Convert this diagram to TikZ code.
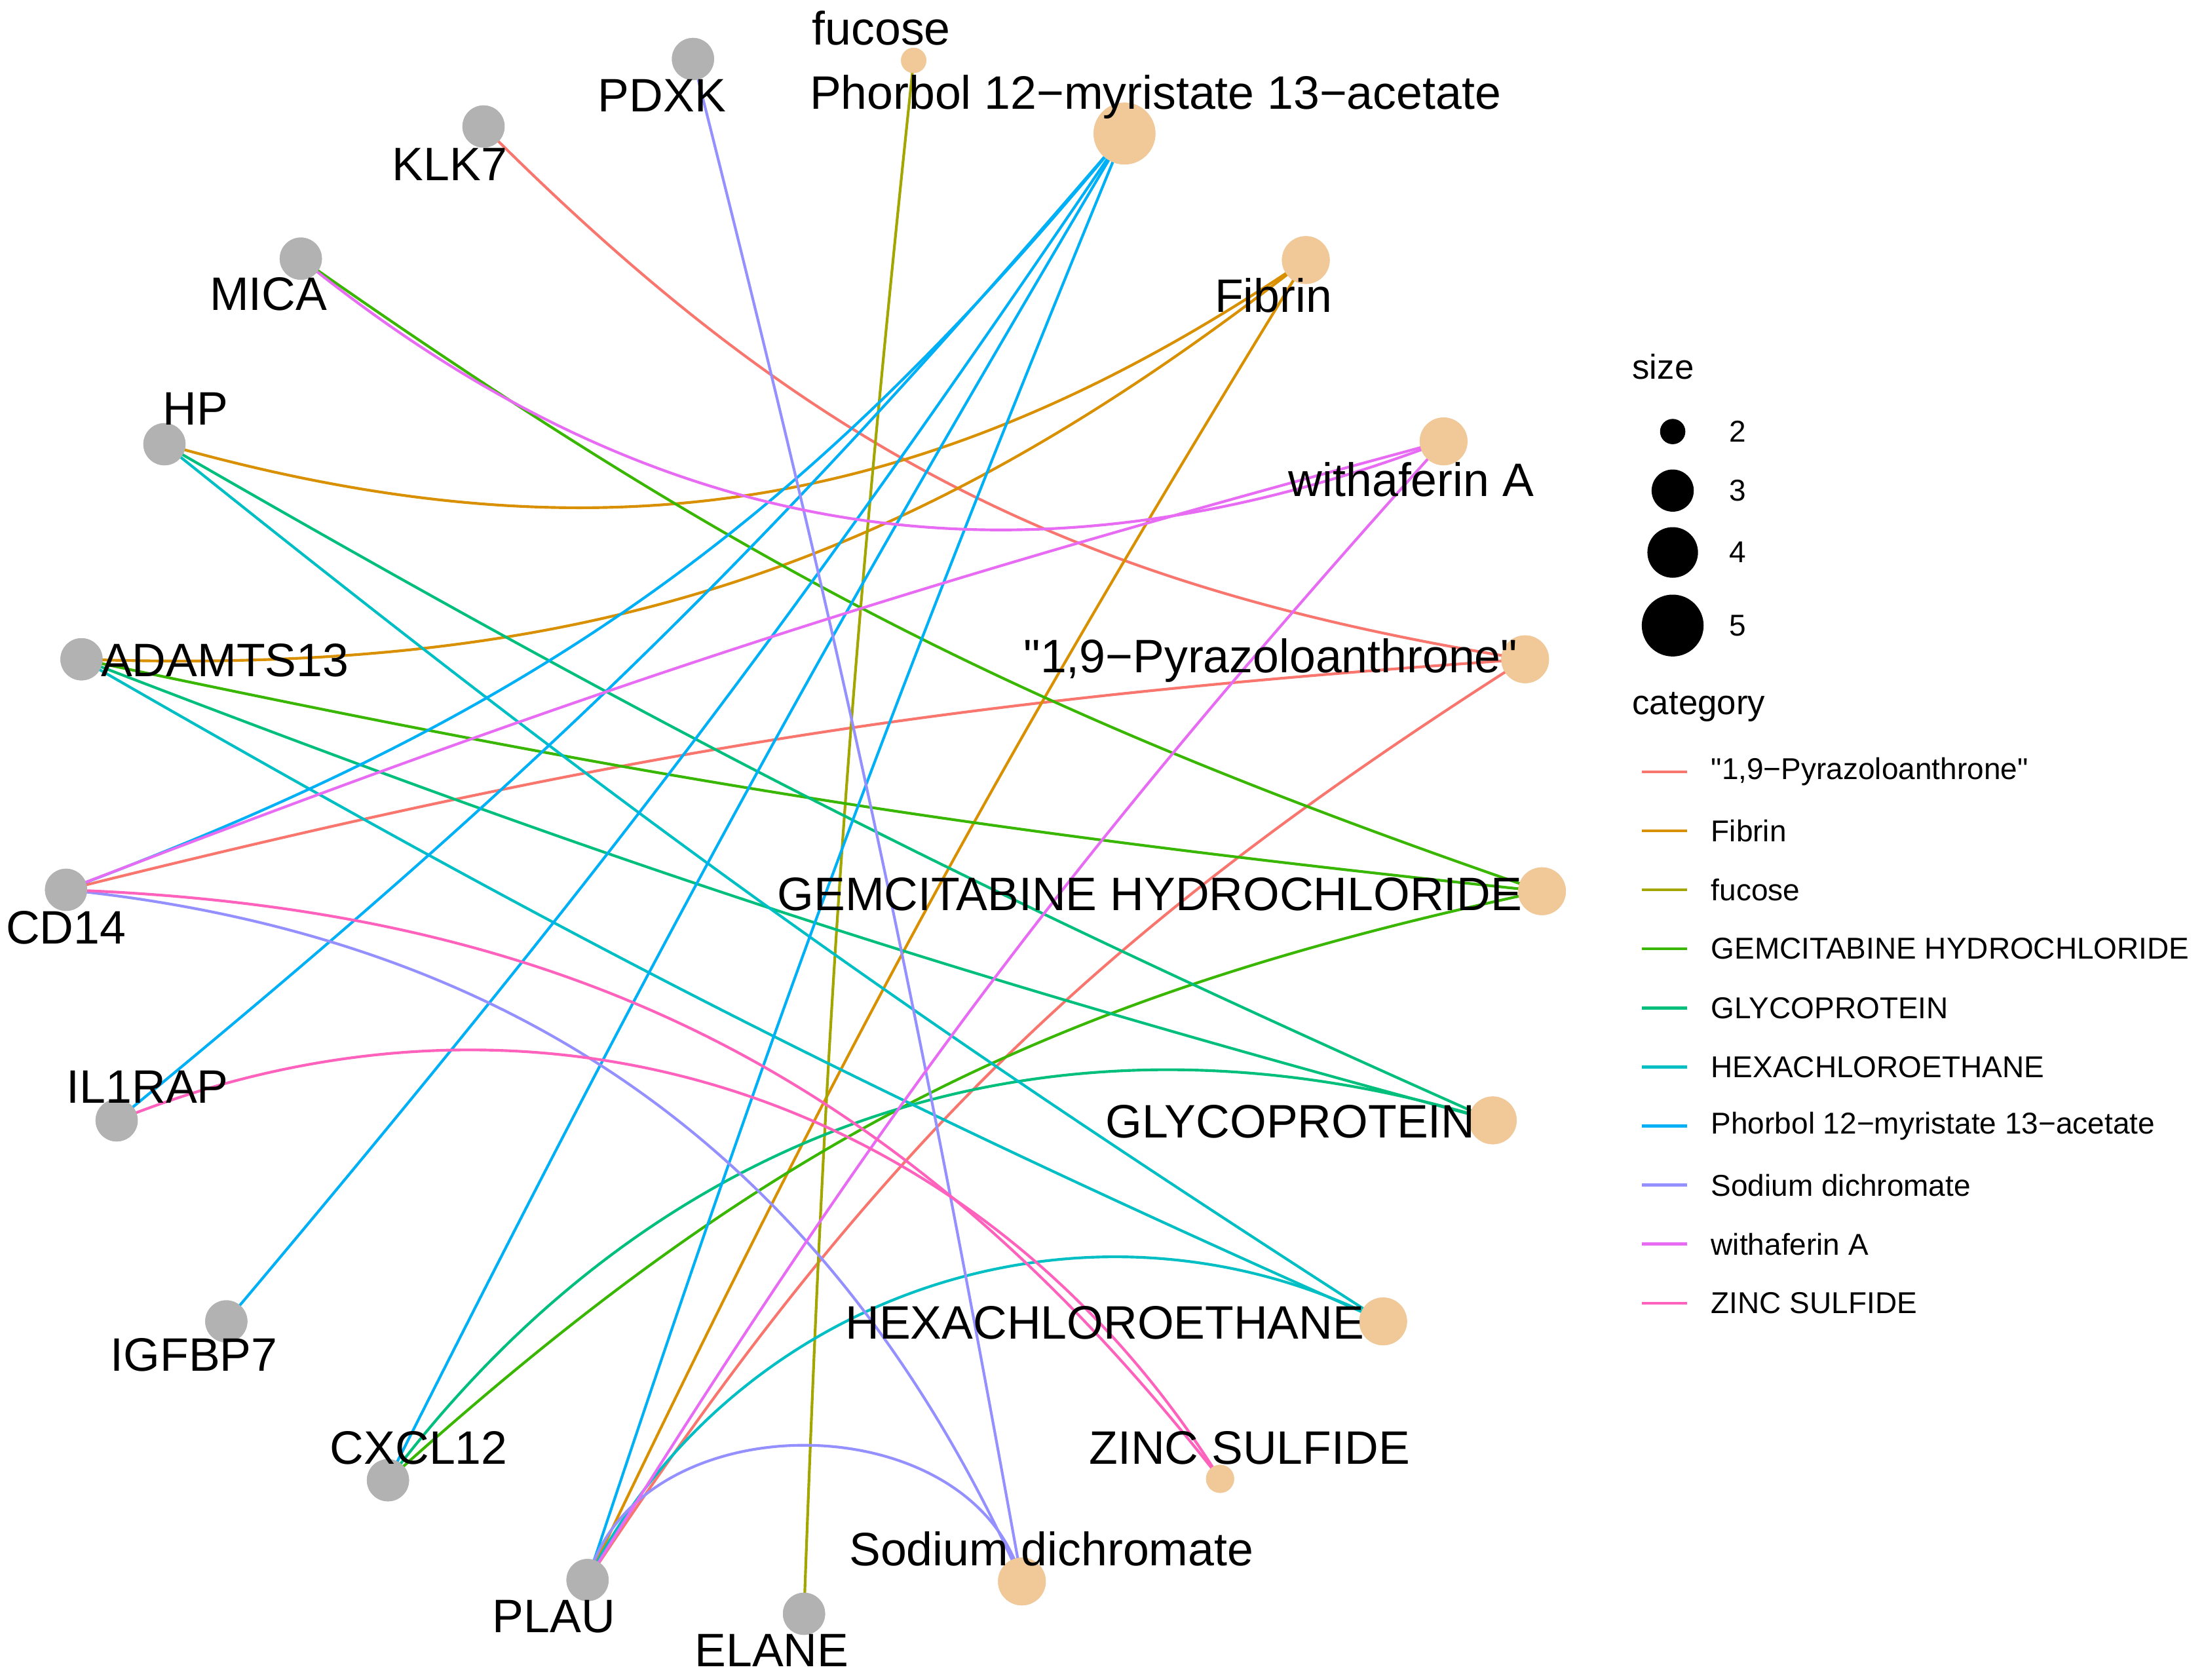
\documentclass[tikz,border=0pt]{standalone}
\usepackage{fontspec}
\setmainfont{Liberation Sans}
\newfontfamily\lsans{Liberation Sans}
\begin{document}
\begin{tikzpicture}[x=0.02cm,y=-0.02cm,
 gene/.style={circle,fill=gray!60,minimum size=30*0.02cm,inner sep=0},
 cat/.style={circle,fill=cattan,inner sep=0},
 lab/.style={font=\lsans\fontsize{19}{21}\selectfont,inner sep=0},
 leg/.style={font=\lsans\fontsize{12.2}{14}\selectfont,anchor=west,inner sep=0},
 ed/.style={line width=1.1pt}]
\definecolor{cattan}{HTML}{F1C898}
\definecolor{cA}{HTML}{F8766D}\definecolor{cB}{HTML}{D89000}\definecolor{cC}{HTML}{A3A500}
\definecolor{cD}{HTML}{39B600}\definecolor{cE}{HTML}{00BF7D}\definecolor{cF}{HTML}{00BFC4}
\definecolor{cG}{HTML}{00B0F6}\definecolor{cH}{HTML}{9590FF}\definecolor{cI}{HTML}{E76BF3}
\definecolor{cJ}{HTML}{FF62BC}
\useasboundingbox (0,0) rectangle (1568,1195);
% genes
\node[gene] (PDXK) at (493,42) {};
\node[gene] (KLK7) at (344,90) {};
\node[gene] (MICA) at (214,184) {};
\node[gene] (HP) at (117,316) {};
\node[gene] (ADAMTS13) at (58,469) {};
\node[gene] (CD14) at (47,633) {};
\node[gene] (IL1RAP) at (83,797) {};
\node[gene] (IGFBP7) at (161,940) {};
\node[gene] (CXCL12) at (276,1053) {};
\node[gene] (PLAU) at (418,1124) {};
\node[gene] (ELANE) at (572,1148) {};
% categories
\node[cat,minimum size=18*0.02cm] (fuc) at (650,43) {};
\node[cat,minimum size=44*0.02cm] (pma) at (800,95) {};
\node[cat,minimum size=34*0.02cm] (fib) at (929,185) {};
\node[cat,minimum size=34*0.02cm] (wit) at (1027,314) {};
\node[cat,minimum size=34*0.02cm] (pyr) at (1085,469) {};
\node[cat,minimum size=34*0.02cm] (gem) at (1097,634) {};
\node[cat,minimum size=34*0.02cm] (gly) at (1062,797) {};
\node[cat,minimum size=34*0.02cm] (hex) at (984,940) {};
\node[cat,minimum size=20*0.02cm] (zin) at (868,1052) {};
\node[cat,minimum size=34*0.02cm] (sod) at (727,1125) {};
% edges
\begin{scope}[ed]
\draw[cA] (KLK7.center) to[bend right=18] (pyr.center);
\draw[cA] (CD14.center) to[bend left=5] (pyr.center);
\draw[cA] (PLAU.center) to[bend left=12] (pyr.center);
\draw[cB] (HP.center) to[bend right=25] (fib.center);
\draw[cB] (ADAMTS13.center) to[bend right=20] (fib.center);
\draw[cB] (PLAU.center) to[bend left=3] (fib.center);
\draw[cC] (ELANE.center) to[bend left=2] (fuc.center);
\draw[cD] (MICA.center) to[bend right=8] (gem.center);
\draw[cD] (ADAMTS13.center) to[bend right=3] (gem.center);
\draw[cD] (CXCL12.center) to[bend left=15] (gem.center);
\draw[cE] (HP.center) to[bend right=3] (gly.center);
\draw[cE] (ADAMTS13.center) to[bend right=3] (gly.center);
\draw[cE] (CXCL12.center) to[bend left=35] (gly.center);
\draw[cF] (HP.center) to[bend right=3] (hex.center);
\draw[cF] (ADAMTS13.center) to[bend right=3] (hex.center);
\draw[cF] (PLAU.center) to[bend left=45] (hex.center);
\draw[cG] (CD14.center) to[bend right=15] (pma.center);
\draw[cG] (IL1RAP.center) to[bend right=5] (pma.center);
\draw[cG] (IGFBP7.center) to[bend right=3] (pma.center);
\draw[cG] (CXCL12.center) to[bend left=2] (pma.center);
\draw[cG] (PLAU.center) to[bend left=2] (pma.center);
\draw[cH] (PDXK.center) to[bend left=2] (sod.center);
\draw[cH] (CD14.center) to[bend left=30] (sod.center);
\draw[cH] (PLAU.center) to[bend left=75,looseness=1.1] (sod.center);
\draw[cI] (MICA.center) to[bend right=30] (wit.center);
\draw[cI] (CD14.center) to[bend left=3] (wit.center);
\draw[cI] (PLAU.center) to[bend left=5] (wit.center);
\draw[cJ] (CD14.center) to[bend left=25] (zin.center);
\draw[cJ] (IL1RAP.center) to[bend left=40] (zin.center);
\end{scope}
% redraw circles on top
\foreach \n in {PDXK,KLK7,MICA,HP,ADAMTS13,CD14,IL1RAP,IGFBP7,CXCL12,PLAU,ELANE}{\fill[gray!60] (\n) circle (15);}
\fill[cattan] (fuc) circle (9); \fill[cattan] (pma) circle (22);
\foreach \n in {fib,wit,pyr,gem,gly,hex,sod}{\fill[cattan] (\n) circle (17);}
\fill[cattan] (zin) circle (10);
% labels
\node[lab] (lPDXK) at (471,68) {PDXK};
\node[lab] (lKLK7) at (320,117) {KLK7};
\node[lab] (lMICA) at (191,209) {MICA};
\node[lab] (lHP) at (139,291) {HP};
\node[lab] (lADAM) at (160,470) {ADAMTS13};
\node[lab] (lCD14) at (47,660) {CD14};
\node[lab] (lIL1) at (105,773) {IL1RAP};
\node[lab] (lIGF) at (138,964) {IGFBP7};
\node[lab] (lCXC) at (298,1030) {CXCL12};
\node[lab] (lPLAU) at (394,1150) {PLAU};
\node[lab] (lELA) at (549,1174) {ELANE};
\node[lab] (lfuc) at (627,20) {fucose};
\node[lab] (lpma) at (822,69) {Phorbol 12−myristate 13−acetate};
\node[lab] (lfib) at (906,210) {Fibrin};
\node[lab] (lwit) at (1004,341) {withaferin A};
\node[lab] (lpyr) at (904,470) {"1,9−Pyrazoloanthrone"};
\node[lab] (lgem) at (818,636) {GEMCITABINE HYDROCHLORIDE};
\node[lab] (lgly) at (918,798) {GLYCOPROTEIN};
\node[lab] (lhex) at (786,941) {HEXACHLOROETHANE};
\node[lab] (lzin) at (889,1030) {ZINC SULFIDE};
\node[lab] (lsod) at (748,1102) {Sodium dichromate};
% legend
\node[leg,font=\lsans\fontsize{14}{16}\selectfont] (lsize) at (1161,261) {size};
\fill (1190,307) circle (9); \fill (1190,349) circle (15);
\fill (1190,393) circle (18); \fill (1190,445) circle (22);
\node[leg] (s2) at (1230,307) {2};
\node[leg] (s3) at (1230,349) {3};
\node[leg] (s4) at (1230,393) {4};
\node[leg] (s5) at (1230,445) {5};
\node[leg,font=\lsans\fontsize{14}{16}\selectfont] (lcat) at (1161,503) {category};
\foreach \c/\t [count=\i from 0] in {cA/{"1,9−Pyrazoloanthrone"},cB/Fibrin,cC/fucose,cD/GEMCITABINE HYDROCHLORIDE,cE/GLYCOPROTEIN,cF/HEXACHLOROETHANE,cG/Phorbol 12−myristate 13−acetate,cH/Sodium dichromate,cI/withaferin A,cJ/ZINC SULFIDE}{
 \draw[\c,line width=1.2pt] (1168,549+42*\i) -- (1200,549+42*\i);
 \node[leg] at (1217,549+42*\i) {\t};
}
\end{tikzpicture}
\end{document}
